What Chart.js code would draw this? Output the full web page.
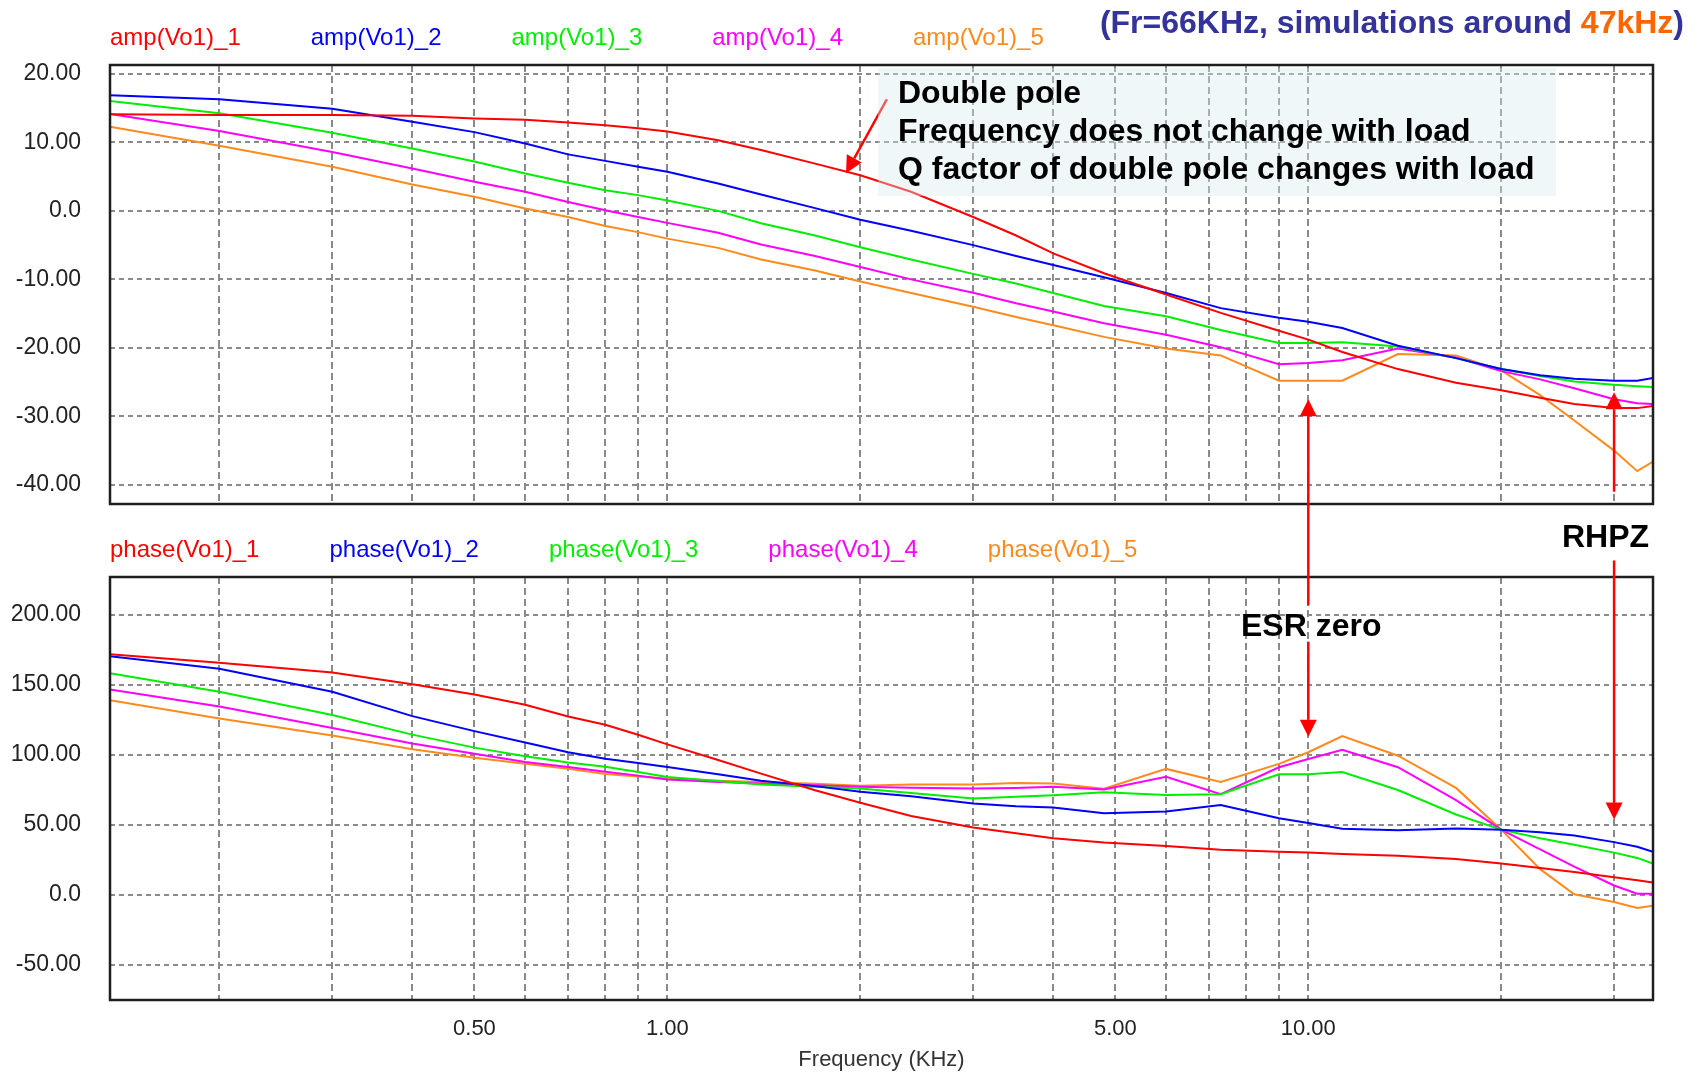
<!DOCTYPE html>
<html>
<head>
<meta charset="utf-8">
<title>amp / phase (Vo1)</title>
<script src="https://cdn.jsdelivr.net/npm/chart.js@4.4.0/dist/chart.umd.min.js"></script>
<style>
  body { margin: 0; background: #fff; }
  #wrap { position: relative; width: 1704px; height: 1076px; font-family: "Liberation Sans", Arial, sans-serif; }
  #wrap canvas { position: absolute; left: 0; top: 0; }
  .note { position: absolute; font-weight: bold; font-size: 32px; line-height: 38px; color: #000; white-space: nowrap; z-index: 3; }
  #title { right: 20px; top: 3px; color: #333399; }
  #title span { color: #ff6600; }
  #noteBox { position: absolute; left: 878px; top: 68px; width: 678px; height: 128px; background: rgba(212, 234, 238, 0.38); z-index: 2; }
</style>
</head>
<body>
<div id="wrap">
  <canvas id="ampChart" width="1704" height="1076"></canvas>
  <canvas id="phaseChart" width="1704" height="1076"></canvas>
  <div id="noteBox"></div>
  <div class="note" id="title">(Fr=66KHz, simulations around <span>47kHz</span>)</div>
  <div class="note" style="left:898px; top:73px;">Double pole<br>Frequency does not change with load<br>Q factor of double pole changes with load</div>
  <div class="note" style="left:1241px; top:606px;">ESR zero</div>
  <div class="note" style="left:1562px; top:517px;">RHPZ</div>
</div>
<script>
'use strict';

//---------------------- data -------------------
// sweep frequencies (kHz)
let freqKHz = [0.135, 0.2, 0.3, 0.4, 0.5, 0.6, 0.7, 0.8, 0.9, 1.0,
  1.2, 1.4, 1.7, 2.0, 2.4, 3.0, 3.5, 4.0, 4.8, 6.0,
  7.3, 9.0, 10, 11.3, 13.8, 17, 20, 23, 26, 30,
  32.6, 34.5];

// amp(Vo1) in dB, one array per load
let amp1 = [14.1, 14.0, 14.0, 13.9, 13.5, 13.3, 12.9, 12.5, 12.05, 11.6,
  10.3, 8.9, 6.9, 5.2, 2.8, -0.9, -3.6, -6.2, -9.1, -12.2,
  -14.9, -17.5, -18.8, -20.6, -23.1, -25.1, -26.2, -27.3, -28.2, -28.8,
  -28.8, -28.5];
let amp2 = [16.9, 16.3, 14.9, 13.0, 11.5, 9.85, 8.25, 7.3, 6.45, 5.7,
  4.0, 2.4, 0.4, -1.3, -2.9, -5.0, -6.6, -7.9, -9.7, -12.0,
  -14.2, -15.6, -16.2, -17.1, -19.7, -21.5, -23.1, -24.0, -24.5, -24.8,
  -24.8, -24.4];
let amp3 = [16.05, 14.25, 11.4, 9.1, 7.2, 5.45, 4.1, 3.0, 2.3, 1.5,
  0.0, -1.8, -3.6, -5.3, -7.1, -9.2, -10.6, -12.0, -13.9, -15.4,
  -17.4, -19.3, -19.3, -19.2, -19.8, -21.5, -23.1, -24.1, -24.9, -25.4,
  -25.6, -25.7];
let amp4 = [14.15, 11.65, 8.6, 6.2, 4.25, 2.8, 1.3, 0.1, -0.9, -1.75,
  -3.2, -4.9, -6.6, -8.2, -10.0, -11.95, -13.5, -14.7, -16.4, -18.1,
  -19.9, -22.4, -22.2, -21.8, -20.1, -21.4, -23.4, -24.6, -25.9, -27.5,
  -28.1, -28.2];
let amp5 = [12.3, 9.5, 6.45, 3.85, 2.05, 0.35, -0.9, -2.2, -3.1, -4.05,
  -5.4, -7.1, -8.7, -10.3, -12.0, -14.0, -15.5, -16.7, -18.4, -20.1,
  -21.1, -24.8, -24.8, -24.8, -20.9, -21.1, -23.3, -26.9, -30.6, -35.0,
  -38.0, -36.6];

// phase(Vo1) in degrees
let phase1 = [172, 166, 159, 150.6, 143.2, 135.9, 127.5, 121.6, 114.5, 107.6,
  96.5, 86.7, 74.9, 65.9, 56.5, 48.3, 44.1, 40.5, 37.5, 35,
  32.3, 31, 30.3, 29.3, 28, 25.7, 22.5, 19.3, 16.5, 12.7,
  10.5, 9];
let phase2 = [170.6, 161.6, 145.2, 127.8, 117.1, 109, 102, 97.4, 94.3, 91.5,
  86.2, 81.6, 77.8, 73.7, 70.5, 65.4, 63.5, 62.6, 58.5, 59.6,
  64.3, 54.9, 51.4, 47.3, 46.3, 47.5, 46.7, 44.8, 42.5, 37.8,
  34.5, 30.8];
let phase3 = [158.4, 145.2, 128.6, 114.6, 105.3, 99.2, 94.6, 91.6, 87.9, 84.4,
  81.4, 79, 77.4, 76.1, 72.9, 69, 70.2, 71.3, 73.5, 71.5,
  72, 86.2, 86.2, 87.8, 75, 57.5, 46.7, 40.6, 35.9, 30.3,
  26.5, 22.5];
let phase4 = [146.9, 134.7, 119.3, 108.3, 100.9, 95, 91.4, 88.1, 85.3, 82.5,
  80.8, 79.6, 78.5, 77.3, 76.7, 76.1, 76.5, 77.3, 75.4, 84.5,
  72, 91.3, 97.2, 103.8, 91.3, 67.8, 46.7, 32.6, 20.3, 6.8,
  0.9, 0.9];
let phase5 = [139.1, 126.1, 113.9, 104.1, 98, 93.8, 90.2, 86.5, 84.6, 83.2,
  81.6, 80.8, 79.5, 78, 78.9, 78.9, 80, 79.6, 76, 90.1,
  80.8, 93.7, 102, 113.6, 99.5, 76.5, 46.7, 18.5, 0.5, -5,
  -9.2, -7.7];

let ampLabels = ['amp(Vo1)_1', 'amp(Vo1)_2', 'amp(Vo1)_3', 'amp(Vo1)_4', 'amp(Vo1)_5'];
let phaseLabels = ['phase(Vo1)_1', 'phase(Vo1)_2', 'phase(Vo1)_3', 'phase(Vo1)_4', 'phase(Vo1)_5'];
let colors = ['#ff0000', '#0000ff', '#00ee00', '#ff00ff', '#ff8a1c'];

// ticks
let gridFreqs = [0.2, 0.3, 0.4, 0.5, 0.6, 0.7, 0.8, 0.9, 1, 2, 3, 4, 5, 6, 7, 8, 9, 10, 20, 30];
let freqTickLabels = [0.5, 1, 5, 10];
let ampTicks = [-40, -30, -20, -10, 0, 10, 20];
let phaseTicks = [-50, 0, 50, 100, 150, 200];

// arrows: [kHz, value, which plot]  tail -> head
let arrowNotes = [
  { from: [2.2, 16.3, 'amp'], to: [1.9, 5.5, 'amp'] },
  { from: [10, 207, 'phase'], to: [10, -27.5, 'amp'] },
  { from: [10, 181, 'phase'], to: [10, 113, 'phase'] },
  { from: [30, -41, 'amp'], to: [30, -26.5, 'amp'] },
  { from: [30, 239, 'phase'], to: [30, 54, 'phase'] }
];

//---------------------- helpers -------------------
const FONT = '"Liberation Sans", Arial, sans-serif';
const gridColor = '#8a8a8a';

function makeSets(labels, series) {
  return series.map((vals, i) => ({
    label: labels[i],
    data: vals.map((v, k) => ({ x: freqKHz[k], y: v })),
    borderColor: colors[i],
    backgroundColor: colors[i],
    borderWidth: 2,
    pointRadius: 0,
    tension: 0,
    fill: false
  }));
}

function fmtVal(v) {
  return v === 0 ? '0.0' : v.toFixed(2);
}

// coloured series names above each plot
const seriesNames = {
  id: 'seriesNames',
  afterDraw(chart) {
    let ctx = chart.ctx;
    let x = chart.chartArea.left;
    ctx.save();
    ctx.font = '24px ' + FONT;
    ctx.textBaseline = 'middle';
    chart.data.datasets.forEach(ds => {
      ctx.fillStyle = ds.borderColor;
      ctx.fillText(ds.label, x, chart.chartArea.top - 27);
      x += ctx.measureText(ds.label).width + 70;
    });
    ctx.restore();
  }
};

// black frame round the plot area
const plotFrame = {
  id: 'plotFrame',
  afterDatasetsDraw(chart) {
    let a = chart.chartArea;
    let ctx = chart.ctx;
    ctx.save();
    ctx.strokeStyle = '#1e1e1e';
    ctx.lineWidth = 2.5;
    ctx.strokeRect(a.left, a.top, a.right - a.left, a.bottom - a.top);
    ctx.restore();
  }
};

function xAxis(showLabels) {
  return {
    type: 'logarithmic',
    min: 0.135,
    max: 34.5,
    afterBuildTicks: s => { s.ticks = gridFreqs.map(v => ({ value: v })); },
    ticks: {
      display: showLabels,
      autoSkip: false,
      maxRotation: 0,
      padding: 16,
      color: '#222',
      font: { family: FONT, size: 22 },
      callback: v => freqTickLabels.includes(v) ? v.toFixed(2) : ''
    },
    grid: { color: gridColor, lineWidth: 2, drawTicks: false },
    border: { display: false, dash: [7, 4] },
    title: {
      display: showLabels,
      text: 'Frequency (KHz)',
      color: '#333',
      font: { family: FONT, size: 22 },
      padding: { top: 0, bottom: 3 }
    },
    afterFit: s => { s.height = showLabels ? 76 : 0; }
  };
}

function yAxis(min, max, tickVals) {
  return {
    min: min,
    max: max,
    afterBuildTicks: s => { s.ticks = tickVals.map(v => ({ value: v })); },
    ticks: {
      padding: 29,
      color: '#222',
      font: { family: FONT, size: 23 },
      callback: v => fmtVal(v)
    },
    grid: { color: gridColor, lineWidth: 2, drawTicks: false },
    border: { display: false, dash: [5, 4] },
    afterFit: s => { s.width = 110; }
  };
}

function baseOptions(pad, min, max, tickVals, showLabels) {
  return {
    responsive: false,
    animation: false,
    devicePixelRatio: 1,
    events: [],
    layout: { padding: pad },
    plugins: { legend: { display: false }, tooltip: { enabled: false } },
    scales: { x: xAxis(showLabels), y: yAxis(min, max, tickVals) }
  };
}

//---------------------- charts -------------------
let ampChart = new Chart(document.getElementById('ampChart').getContext('2d'), {
  type: 'line',
  data: { datasets: makeSets(ampLabels, [amp1, amp2, amp3, amp4, amp5]) },
  options: baseOptions({ top: 65, left: 0, right: 51, bottom: 572 }, -42.8, 21.3, ampTicks, false),
  plugins: [seriesNames, plotFrame]
});

const arrows = {
  id: 'arrows',
  afterDraw(chart) {
    let ctx = chart.ctx;
    function px(p) {
      let c = p[2] === 'amp' ? ampChart : chart;
      return [c.scales.x.getPixelForValue(p[0]), c.scales.y.getPixelForValue(p[1])];
    }
    ctx.save();
    ctx.strokeStyle = '#ff0000';
    ctx.fillStyle = '#ff0000';
    ctx.lineWidth = 2.5;
    arrowNotes.forEach(n => {
      let [x1, y1] = px(n.from);
      let [x2, y2] = px(n.to);
      let ang = Math.atan2(y2 - y1, x2 - x1);
      let head = 17, half = 8.5;
      let bx = x2 - head * Math.cos(ang), by = y2 - head * Math.sin(ang);
      ctx.beginPath();
      ctx.moveTo(x1, y1);
      ctx.lineTo(bx, by);
      ctx.stroke();
      ctx.beginPath();
      ctx.moveTo(x2, y2);
      ctx.lineTo(bx + half * Math.sin(ang), by - half * Math.cos(ang));
      ctx.lineTo(bx - half * Math.sin(ang), by + half * Math.cos(ang));
      ctx.closePath();
      ctx.fill();
    });
    ctx.restore();
  }
};

let phaseChart = new Chart(document.getElementById('phaseChart').getContext('2d'), {
  type: 'line',
  data: { datasets: makeSets(phaseLabels, [phase1, phase2, phase3, phase4, phase5]) },
  options: baseOptions({ top: 577, left: 0, right: 51, bottom: 0 }, -75, 227.2, phaseTicks, true),
  plugins: [seriesNames, plotFrame, arrows]
});
</script>
</body>
</html>
